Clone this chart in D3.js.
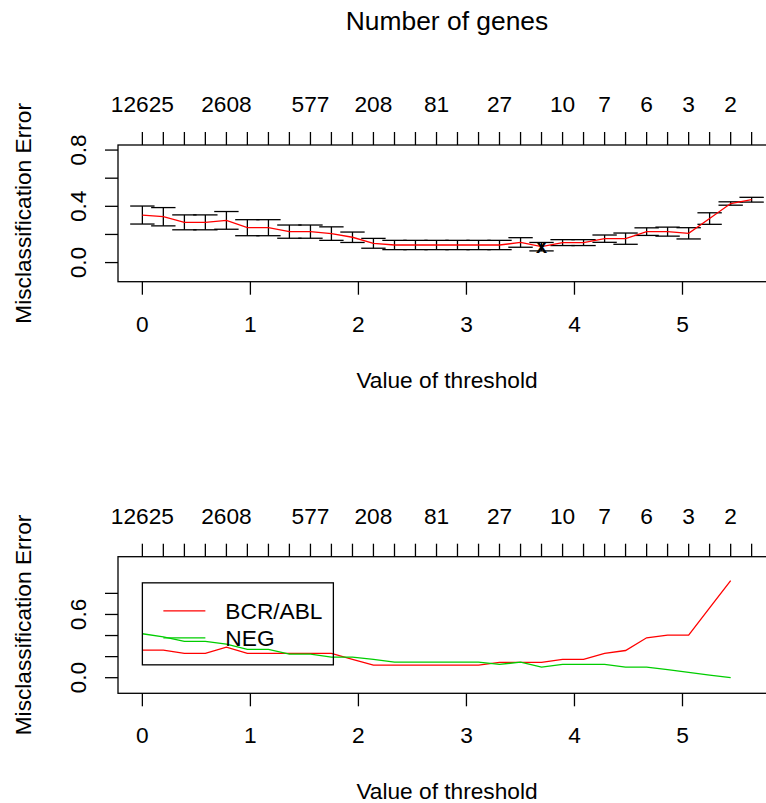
<!DOCTYPE html>
<html>
<head>
<meta charset="utf-8">
<script src="https://cdn.jsdelivr.net/npm/d3@7"></script>
<style>
  body { margin: 0; background: #fff; }
  text { font-family: "Liberation Sans", Arial, sans-serif; fill: #000; }
</style>
</head>
<body>
<svg id="chart" width="766" height="803"></svg>
<script>
// threshold values (30, as in the cv fit)
const threshold = [0, 0.194, 0.389, 0.583, 0.778, 0.972, 1.167, 1.361, 1.556, 1.750,
    1.945, 2.139, 2.334, 2.528, 2.723, 2.917, 3.112, 3.306, 3.501, 3.695,
    3.890, 4.084, 4.279, 4.473, 4.668, 4.862, 5.057, 5.251, 5.446, 5.640];

// number of genes on the top axis (null = label dropped by overlap)
const nGenes = [12625, null, null, null, 2608, null, null, null, 577, null,
    null, 208, null, null, 81, null, null, 27, null, null,
    10, null, 7, null, 6, null, 3, null, 2, null];

// overall misclassification error and its standard error
const cvError = [0.338, 0.326, 0.286, 0.286, 0.300, 0.248, 0.248, 0.220, 0.220, 0.206,
    0.180, 0.137, 0.125, 0.125, 0.125, 0.125, 0.125, 0.125, 0.143, 0.113,
    0.142, 0.142, 0.170, 0.170, 0.220, 0.220, 0.208, 0.313, 0.420, 0.447];
const cvSe = [0.064, 0.065, 0.053, 0.053, 0.063, 0.057, 0.057, 0.047, 0.047, 0.048,
    0.037, 0.035, 0.033, 0.033, 0.033, 0.033, 0.033, 0.033, 0.034, 0.030,
    0.021, 0.021, 0.026, 0.040, 0.027, 0.032, 0.040, 0.041, 0.012, 0.017];

// per class error (last threshold has no value)
const classNames = ['BCR/ABL', 'NEG'];
const classColors = ['#FF0000', '#00CD00'];
const errBCR = [0.262, 0.262, 0.230, 0.230, 0.290, 0.230, 0.230, 0.230, 0.230, 0.230,
    0.175, 0.120, 0.120, 0.120, 0.120, 0.120, 0.120, 0.145, 0.145, 0.145,
    0.173, 0.173, 0.230, 0.258, 0.379, 0.404, 0.404, 0.663, 0.921];
const errNEG = [0.417, 0.388, 0.344, 0.344, 0.318, 0.268, 0.268, 0.224, 0.224, 0.195,
    0.195, 0.173, 0.148, 0.148, 0.148, 0.148, 0.148, 0.126, 0.148, 0.100,
    0.126, 0.126, 0.126, 0.100, 0.100, 0.076, 0.050, 0.025, 0.000];

const yTicks = [0, 0.2, 0.4, 0.6, 0.8];
const xTicks = [0, 1, 2, 3, 4, 5];

const fontSize = 22.7;
const tickLen = 13;
const lw = 1.3;

let svg = d3.select('#chart');

// R style range: extend data range by 4% on each side
function rExtend(lo, hi) {
    let d = (hi - lo) * 0.04;
    return [lo - d, hi + d];
}

let x = d3.scaleLinear()
    .domain(rExtend(d3.min(threshold), d3.max(threshold)))
    .range([118, 776]);

/*
 * Draws box, axes and labels for one panel.
 * yLabels lists which y tick labels survive the overlap check.
 */
function drawFrame(g, y, top, bottom, yLabels) {
    g.append('rect')
        .attr('x', x.range()[0]).attr('y', top)
        .attr('width', x.range()[1] - x.range()[0])
        .attr('height', bottom - top)
        .attr('fill', 'none').attr('stroke', '#000').attr('stroke-width', lw);

    // bottom axis
    g.selectAll('.xt').data(xTicks).enter().append('line')
        .attr('x1', d => x(d)).attr('x2', d => x(d))
        .attr('y1', bottom).attr('y2', bottom + tickLen)
        .attr('stroke', '#000').attr('stroke-width', lw);
    g.selectAll('.xl').data(xTicks).enter().append('text')
        .attr('x', d => x(d)).attr('y', bottom + 50)
        .attr('text-anchor', 'middle').attr('font-size', fontSize)
        .text(d => d);
    g.append('text')
        .attr('x', (x.range()[0] + x.range()[1]) / 2).attr('y', bottom + 106)
        .attr('text-anchor', 'middle').attr('font-size', fontSize)
        .text('Value of threshold');

    // top axis: number of genes
    g.selectAll('.tt').data(threshold).enter().append('line')
        .attr('x1', d => x(d)).attr('x2', d => x(d))
        .attr('y1', top).attr('y2', top - tickLen)
        .attr('stroke', '#000').attr('stroke-width', lw);
    g.selectAll('.tl').data(threshold).enter().append('text')
        .attr('x', d => x(d)).attr('y', top - 33)
        .attr('text-anchor', 'middle').attr('font-size', fontSize)
        .text((d, i) => nGenes[i] === null ? '' : nGenes[i]);

    // left axis
    g.selectAll('.yt').data(yTicks).enter().append('line')
        .attr('x1', x.range()[0]).attr('x2', x.range()[0] - tickLen)
        .attr('y1', d => y(d)).attr('y2', d => y(d))
        .attr('stroke', '#000').attr('stroke-width', lw);
    g.selectAll('.yl').data(yLabels).enter().append('text')
        .attr('transform', d => 'translate(86,' + y(d) + ') rotate(-90)')
        .attr('text-anchor', 'middle').attr('font-size', fontSize)
        .text(d => d.toFixed(1));
    g.append('text')
        .attr('transform', 'translate(31,' + (top + bottom) / 2 + ') rotate(-90)')
        .attr('text-anchor', 'middle').attr('font-size', fontSize)
        .text('Misclassification Error');
}

// ---------- top panel: overall cv error with error bars ----------
let top1 = 145, bot1 = 281.7;
let y1 = d3.scaleLinear().domain(rExtend(-0.1, 0.8)).range([bot1, top1]);
let p1 = svg.append('g');
drawFrame(p1, y1, top1, bot1, [0, 0.4, 0.8]);

let barw = (d3.max(threshold) - d3.min(threshold)) * 0.02;
let bars = threshold.map(function (t, i) {
    return { t: t, up: cvError[i] + cvSe[i], lo: cvError[i] - cvSe[i] };
});
p1.selectAll('.ev').data(bars).enter().append('line')
    .attr('x1', d => x(d.t)).attr('x2', d => x(d.t))
    .attr('y1', d => y1(d.up)).attr('y2', d => y1(d.lo))
    .attr('stroke', '#000').attr('stroke-width', lw);
['up', 'lo'].forEach(function (k) {
    p1.selectAll('.cap' + k).data(bars).enter().append('line')
        .attr('x1', d => x(d.t - barw)).attr('x2', d => x(d.t + barw))
        .attr('y1', d => y1(d[k])).attr('y2', d => y1(d[k]))
        .attr('stroke', '#000').attr('stroke-width', lw);
});

p1.append('path')
    .datum(threshold.map((t, i) => [t, cvError[i]]))
    .attr('fill', 'none').attr('stroke', '#FF0000').attr('stroke-width', lw)
    .attr('d', d3.line().x(d => x(d[0])).y(d => y1(d[1])));

// mark the minimum error
let iMin = d3.minIndex(cvError);
p1.append('text')
    .attr('x', x(threshold[iMin])).attr('y', y1(cvError[iMin]))
    .attr('dy', '0.3em')
    .attr('text-anchor', 'middle').attr('font-size', 20)
    .attr('font-weight', 'bold')
    .text('x');

// number of genes title
svg.append('text')
    .attr('x', (x.range()[0] + x.range()[1]) / 2).attr('y', 30)
    .attr('text-anchor', 'middle').attr('font-size', 26.4)
    .text('Number of genes');

// ---------- bottom panel: error per class ----------
let top2 = 556.7, bot2 = 693.3;
let y2 = d3.scaleLinear().domain(rExtend(-0.1, 1.1)).range([bot2, top2]);
let p2 = svg.append('g');
drawFrame(p2, y2, top2, bot2, [0, 0.6]);

let classErr = [errBCR, errNEG];
let line2 = d3.line().x(d => x(d[0])).y(d => y2(d[1]));
classErr.forEach(function (e, k) {
    p2.append('path')
        .datum(e.map((v, i) => [threshold[i], v]))
        .attr('fill', 'none').attr('stroke', classColors[k]).attr('stroke-width', lw)
        .attr('d', line2);
});

// legend at (0, 0.9)
let lg = p2.append('g');
let lx = x(0), ly = y2(0.9);
lg.append('rect')
    .attr('x', lx).attr('y', ly).attr('width', 191).attr('height', 82)
    .attr('fill', 'none').attr('stroke', '#000').attr('stroke-width', lw);
classNames.forEach(function (name, k) {
    let cy = ly + 28 + k * 27;
    lg.append('line')
        .attr('x1', lx + 21).attr('x2', lx + 63)
        .attr('y1', cy).attr('y2', cy)
        .attr('stroke', classColors[k]).attr('stroke-width', lw);
    lg.append('text')
        .attr('x', lx + 83).attr('y', cy + 8)
        .attr('font-size', fontSize)
        .text(name);
});
</script>
</body>
</html>
